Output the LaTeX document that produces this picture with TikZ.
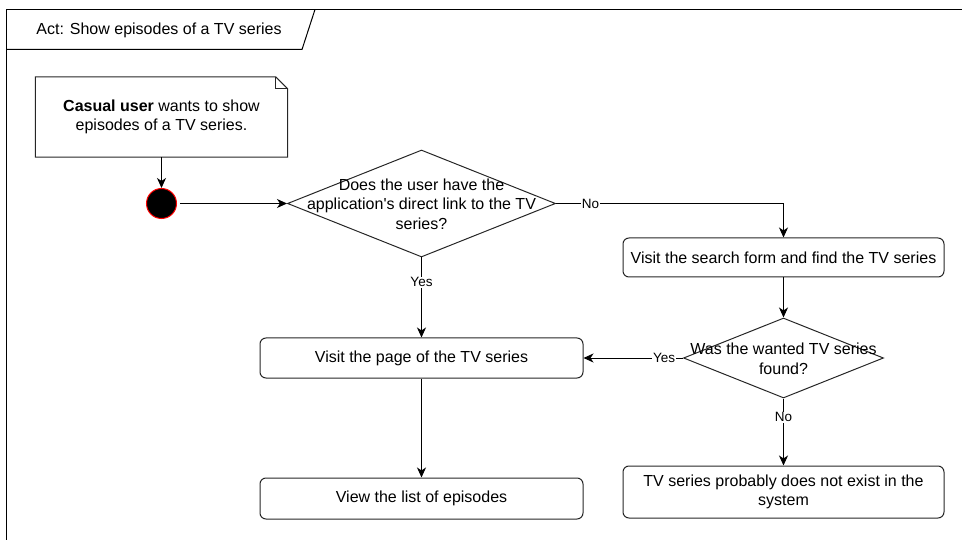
\documentclass[tikz,border=0pt]{standalone}
\usepackage{fontspec}
\setmainfont{Liberation Sans}[Ligatures=TeXOff]
\usetikzlibrary{shapes.geometric,arrows.meta}
\begin{document}
\begin{tikzpicture}[x=1pt,y=-1pt,
  every node/.style={font=\fontsize{16}{19.5}\selectfont},
  box/.style={draw=black!85, line width=1pt, rounded corners=6pt, align=center, inner sep=0pt},
  dec/.style={draw=black!85, line width=1pt, diamond, inner sep=0pt},
  txt/.style={align=center, inner sep=0pt},
  lbl/.style={fill=white, inner sep=1pt, font=\fontsize{13.5}{15}\selectfont},
  flow/.style={line width=1pt, -{Stealth[length=10pt,width=9pt,inset=3pt]}}
]
\useasboundingbox (0,0) rectangle (962,540);
% frame
\draw[line width=1.5pt] (962,9.5) -- (6.5,9.5) -- (6.5,540);
\draw[line width=1pt] (6.5,49.5) -- (302,49.5) -- (315,9.5);
\node[txt] (title) at (159,30) {Act: Show episodes of a TV series};
% note
\node[txt, minimum width=252pt, minimum height=80pt] (note) at (161.5,117)
  {\textbf{Casual user} wants to show\\episodes of a TV series.};
\draw[line width=1pt, draw=black!85] (note.north west) -- ([xshift=-12pt]note.north east)
  -- ([yshift=-12pt]note.north east) -- (note.south east) -- (note.south west) -- cycle;
\draw[line width=1pt, draw=black!85] ([xshift=-12pt]note.north east) -- ([xshift=-12pt,yshift=-12pt]note.north east)
  -- ([yshift=-12pt]note.north east);
% start
\node[circle, fill=black, draw=red, line width=1pt, minimum size=30pt, inner sep=0pt] (start) at (161.5,203.5) {};
% decision 1
\node[dec, minimum width=268pt, minimum height=107pt] (d1) at (421.5,203.5) {};
\node[txt] (d1text) at (421.5,204) {Does the user have the\\application's direct link to the TV\\series?};
% search
\node[box, minimum width=321pt, minimum height=39pt] (search) at (783.5,257.5) {Visit the search form and find the TV series};
% decision 2
\node[dec, minimum width=200pt, minimum height=80pt] (d2) at (783.5,358) {};
\node[txt] (d2text) at (783.5,359) {Was the wanted TV series\\found?};
% boxes
\node[box, minimum width=323pt, minimum height=40pt] (page) at (421.5,358) {Visit the page of the TV series};
\node[box, minimum width=323pt, minimum height=41pt] (list) at (421.5,498.5) {View the list of episodes};
\node[box, minimum width=321pt, minimum height=52pt] (final) at (783.5,492) {TV series probably does not exist in the\\system};
% connectors
\draw[flow] (note.south) -- (start.north);
\draw[flow, shorten <=3pt] (start.east) -- (d1.west);
\draw[flow] (d1.east) -| node[lbl, pos=0.076] (l1) {No} (search.north);
\draw[flow] (d1.south) -- node[lbl, pos=0.31] (l2) {Yes} (page.north);
\draw[flow] (search.south) -- (d2.north);
\draw[flow] (d2.west) -- node[lbl, pos=0.19] (l3) {Yes} (page.east);
\draw[flow] (d2.south) -- node[lbl, pos=0.28] (l4) {No} (final.north);
\draw[flow] (page.south) -- (list.north);
\end{tikzpicture}
\end{document}
